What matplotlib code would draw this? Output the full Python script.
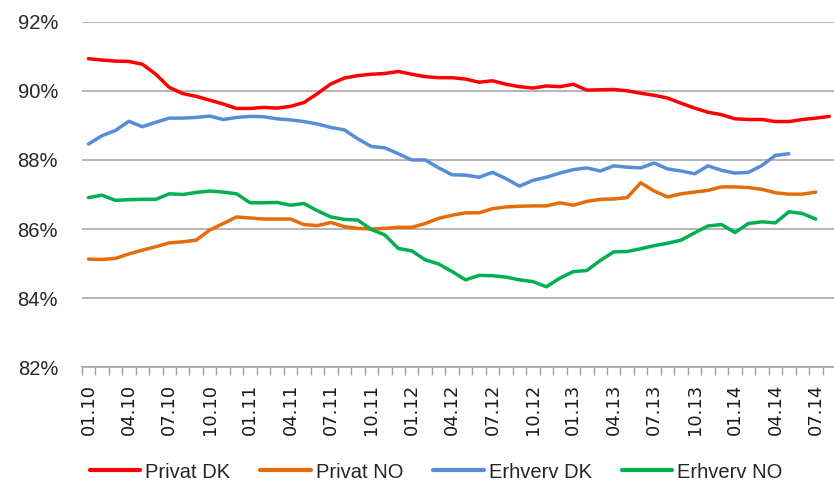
import numpy as np
import matplotlib
matplotlib.use("Agg")
import matplotlib.pyplot as plt
from matplotlib.ticker import FixedLocator, PercentFormatter

# monthly values, Jan 2010 onward (%)
privat_dk = [90.93, 90.89, 90.86, 90.85, 90.77, 90.48, 90.10, 89.92, 89.84, 89.73,
             89.62, 89.49, 89.49, 89.52, 89.50, 89.55, 89.66, 89.92, 90.20, 90.37,
             90.44, 90.48, 90.50, 90.56, 90.48, 90.41, 90.38, 90.38, 90.34, 90.25,
             90.29, 90.19, 90.12, 90.08, 90.14, 90.12, 90.19, 90.02, 90.03, 90.04,
             90.00, 89.93, 89.87, 89.79, 89.64, 89.50, 89.38, 89.31, 89.19, 89.17,
             89.17, 89.11, 89.11, 89.17, 89.21, 89.26]
privat_no = [85.13, 85.12, 85.15, 85.28, 85.39, 85.49, 85.60, 85.63, 85.68, 85.97,
             86.16, 86.35, 86.32, 86.29, 86.29, 86.29, 86.13, 86.10, 86.19, 86.07,
             86.02, 86.00, 86.02, 86.05, 86.05, 86.16, 86.31, 86.40, 86.47, 86.47,
             86.59, 86.64, 86.66, 86.67, 86.67, 86.76, 86.69, 86.80, 86.86, 86.87,
             86.91, 87.34, 87.10, 86.93, 87.02, 87.07, 87.12, 87.22, 87.22, 87.20,
             87.15, 87.05, 87.01, 87.01, 87.07]
erhverv_dk = [88.46, 88.70, 88.85, 89.12, 88.96, 89.09, 89.21, 89.21, 89.23, 89.27,
              89.17, 89.23, 89.26, 89.25, 89.19, 89.16, 89.11, 89.04, 88.94, 88.87,
              88.61, 88.39, 88.35, 88.18, 88.00, 88.00, 87.77, 87.57, 87.56, 87.50,
              87.64, 87.46, 87.24, 87.41, 87.50, 87.62, 87.72, 87.77, 87.68, 87.83,
              87.79, 87.77, 87.91, 87.74, 87.68, 87.60, 87.83, 87.70, 87.62, 87.64,
              87.84, 88.13, 88.18]
erhverv_no = [86.91, 86.98, 86.83, 86.85, 86.86, 86.86, 87.02, 87.00, 87.06, 87.10,
              87.07, 87.02, 86.76, 86.76, 86.77, 86.69, 86.74, 86.53, 86.35, 86.28,
              86.26, 85.99, 85.83, 85.44, 85.37, 85.11, 84.99, 84.77, 84.53, 84.66,
              84.65, 84.61, 84.53, 84.48, 84.33, 84.58, 84.77, 84.80, 85.09, 85.34,
              85.35, 85.43, 85.52, 85.59, 85.68, 85.89, 86.09, 86.13, 85.90, 86.16,
              86.21, 86.18, 86.50, 86.45, 86.29]

tick_labels = ['01.10', '04.10', '07.10', '10.10', '01.11', '04.11', '07.11',
               '10.11', '01.12', '04.12', '07.12', '10.12', '01.13', '04.13',
               '07.13', '10.13', '01.14', '04.14', '07.14']

series = [
    ('Privat DK', privat_dk, '#FF0000'),
    ('Privat NO', privat_no, '#E46C0A'),
    ('Erhverv DK', erhverv_dk, '#558ED5'),
    ('Erhverv NO', erhverv_no, '#00B050'),
]

fig = plt.figure(figsize=(8.34, 4.84), dpi=100)
ax = fig.add_axes([81.7 / 834, 1 - 367.3 / 484, (836 - 81.7) / 834, (367.3 - 21.7) / 484])

for name, vals, col in series:
    ax.plot(np.arange(len(vals)), vals, color=col, lw=2.5, label=name,
            solid_capstyle='round', solid_joinstyle='round')

ax.set_xlim(-0.5, 55.5)
ax.set_ylim(82, 92)
ax.set_yticks(np.arange(82, 93, 2))
ax.yaxis.set_major_formatter(PercentFormatter(decimals=0))
ax.yaxis.grid(True, color='#A0A0A0', lw=1.1)
ax.set_axisbelow(True)
for s in ['left', 'right', 'top']:
    ax.spines[s].set_visible(False)
ax.spines['bottom'].set_color('#A0A0A0')
ax.spines['bottom'].set_linewidth(1.1)
ax.tick_params(axis='y', length=0, pad=17, labelsize=14.5, labelcolor='#262626')
for lab in ax.get_yticklabels():
    lab.set_fontfamily('Liberation Sans')

ax.set_xticks(np.arange(0, 55, 3))
ax.set_xticklabels(tick_labels, rotation=90, fontsize=13, color='#1a1a1a')
ax.xaxis.set_minor_locator(FixedLocator(np.arange(-0.5, 56, 1)))
ax.tick_params(axis='x', which='major', length=0, pad=12)
ax.tick_params(axis='x', which='minor', length=6, color='#A0A0A0', width=1)

leg = fig.legend(loc='center', bbox_to_anchor=(0.523, 1 - 472 / 484), ncol=4,
                 frameon=False, handlelength=2.5, handletextpad=0.25,
                 columnspacing=1.5, borderpad=0.1,
                 prop={'family': 'Liberation Sans', 'size': 14.5})
for t in leg.get_texts():
    t.set_color('#262626')
for h in leg.get_lines():
    h.set_linewidth(3)

fig.savefig('out.png', dpi=100)
